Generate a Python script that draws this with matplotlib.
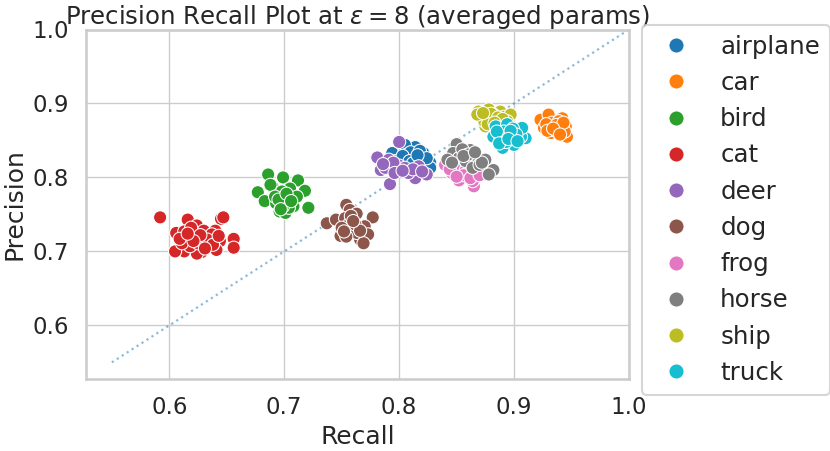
import matplotlib
matplotlib.use("Agg")
import matplotlib.pyplot as plt
import seaborn as sns
import pandas as pd

classes = ["airplane", "car", "bird", "cat", "deer", "dog", "frog", "horse", "ship", "truck"]

airplane_recall = [0.794, 0.805, 0.814, 0.805, 0.821, 0.814, 0.802, 0.827, 0.811, 0.797, 0.821, 0.827, 0.807, 0.817, 0.800, 0.810, 0.818, 0.803, 0.824, 0.809, 0.812, 0.816]
airplane_prec   = [0.833, 0.837, 0.841, 0.844, 0.833, 0.826, 0.824, 0.820, 0.817, 0.822, 0.813, 0.813, 0.831, 0.828, 0.815, 0.834, 0.836, 0.829, 0.826, 0.822, 0.819, 0.830]

car_recall = [0.923, 0.930, 0.942, 0.926, 0.936, 0.938, 0.946, 0.932, 0.941, 0.945, 0.933, 0.928, 0.939, 0.935, 0.944, 0.929, 0.937, 0.943, 0.934, 0.940]
car_prec   = [0.878, 0.885, 0.880, 0.867, 0.869, 0.860, 0.855, 0.860, 0.867, 0.869, 0.874, 0.872, 0.876, 0.864, 0.862, 0.863, 0.871, 0.874, 0.866, 0.858]

bird_recall = [0.686, 0.699, 0.712, 0.677, 0.690, 0.705, 0.718, 0.683, 0.700, 0.693, 0.708, 0.721, 0.696, 0.701, 0.688, 0.698, 0.711, 0.692, 0.704, 0.699, 0.695, 0.702, 0.697, 0.706]
bird_prec   = [0.804, 0.800, 0.796, 0.780, 0.787, 0.785, 0.782, 0.768, 0.772, 0.765, 0.761, 0.759, 0.754, 0.752, 0.790, 0.781, 0.774, 0.774, 0.759, 0.761, 0.770, 0.778, 0.757, 0.768]

cat_recall = [0.592, 0.616, 0.645, 0.647, 0.606, 0.624, 0.630, 0.640, 0.622, 0.613, 0.656, 0.656, 0.635, 0.644, 0.641, 0.613, 0.605, 0.628, 0.624, 0.618, 0.611, 0.637, 0.625, 0.633, 0.619, 0.609, 0.627, 0.638, 0.631, 0.621, 0.643, 0.616]
cat_prec   = [0.746, 0.743, 0.744, 0.746, 0.725, 0.735, 0.728, 0.728, 0.720, 0.727, 0.717, 0.705, 0.711, 0.714, 0.702, 0.700, 0.700, 0.699, 0.697, 0.707, 0.711, 0.723, 0.711, 0.716, 0.732, 0.717, 0.722, 0.709, 0.704, 0.714, 0.721, 0.724]

deer_recall = [0.800, 0.781, 0.791, 0.784, 0.800, 0.792, 0.814, 0.824, 0.808, 0.817, 0.788, 0.805, 0.795, 0.812, 0.820, 0.786, 0.796, 0.803]
deer_prec   = [0.848, 0.827, 0.824, 0.810, 0.816, 0.791, 0.799, 0.804, 0.806, 0.815, 0.813, 0.813, 0.820, 0.811, 0.808, 0.818, 0.806, 0.809]

dog_recall = [0.754, 0.757, 0.763, 0.737, 0.745, 0.753, 0.777, 0.759, 0.770, 0.749, 0.766, 0.773, 0.757, 0.763, 0.754, 0.769, 0.762, 0.750, 0.758, 0.766, 0.760, 0.752]
dog_prec   = [0.763, 0.756, 0.751, 0.738, 0.743, 0.745, 0.746, 0.729, 0.734, 0.721, 0.716, 0.723, 0.738, 0.725, 0.720, 0.711, 0.736, 0.732, 0.748, 0.728, 0.741, 0.727]

frog_recall = [0.840, 0.858, 0.869, 0.846, 0.855, 0.866, 0.865, 0.852, 0.872, 0.861, 0.849, 0.858, 0.864, 0.852, 0.844, 0.868, 0.856, 0.862, 0.850, 0.870]
frog_prec   = [0.817, 0.816, 0.818, 0.806, 0.799, 0.801, 0.788, 0.807, 0.806, 0.808, 0.812, 0.810, 0.795, 0.796, 0.811, 0.812, 0.803, 0.799, 0.801, 0.803]

horse_recall = [0.850, 0.847, 0.862, 0.852, 0.858, 0.868, 0.842, 0.875, 0.882, 0.878, 0.864, 0.870, 0.855, 0.846, 0.860, 0.872, 0.856, 0.866]
horse_prec   = [0.845, 0.833, 0.837, 0.826, 0.822, 0.828, 0.824, 0.824, 0.810, 0.804, 0.813, 0.817, 0.838, 0.820, 0.831, 0.820, 0.829, 0.834]

ship_recall = [0.869, 0.878, 0.888, 0.871, 0.882, 0.891, 0.875, 0.874, 0.897, 0.885, 0.894, 0.880, 0.868, 0.886, 0.877, 0.890, 0.873, 0.883]
ship_prec   = [0.889, 0.892, 0.889, 0.882, 0.885, 0.882, 0.869, 0.876, 0.885, 0.878, 0.876, 0.886, 0.885, 0.881, 0.872, 0.879, 0.887, 0.874]

truck_recall = [0.884, 0.894, 0.904, 0.910, 0.882, 0.888, 0.900, 0.890, 0.896, 0.906, 0.891, 0.885, 0.907, 0.899, 0.893, 0.902, 0.887, 0.897, 0.895, 0.903]
truck_prec   = [0.869, 0.872, 0.862, 0.853, 0.855, 0.851, 0.844, 0.840, 0.858, 0.855, 0.862, 0.862, 0.867, 0.866, 0.848, 0.858, 0.846, 0.863, 0.852, 0.849]

series = {
    "airplane": (airplane_recall, airplane_prec),
    "car": (car_recall, car_prec),
    "bird": (bird_recall, bird_prec),
    "cat": (cat_recall, cat_prec),
    "deer": (deer_recall, deer_prec),
    "dog": (dog_recall, dog_prec),
    "frog": (frog_recall, frog_prec),
    "horse": (horse_recall, horse_prec),
    "ship": (ship_recall, ship_prec),
    "truck": (truck_recall, truck_prec),
}

rows = []
for c in classes:
    r, p = series[c]
    for a, b in zip(r, p):
        rows.append({"Recall": a, "Precision": b, "label": c})
df = pd.DataFrame(rows)

diag = [0.55, 1.0]
x_ticks = [0.6, 0.7, 0.8, 0.9, 1.0]
y_ticks = [0.6, 0.7, 0.8, 0.9, 1.0]

sns.set_theme(style="whitegrid", context="talk")
plt.rcParams["font.family"] = ["DejaVu Sans"]
plt.rcParams["grid.linewidth"] = 1.0

fig = plt.figure(figsize=(8.3, 4.51), dpi=100)
ax = fig.add_axes([86/830, 1-379/451, (629-86)/830, (379-29.5)/451])

sns.scatterplot(data=df, x="Recall", y="Precision", hue="label", hue_order=classes,
                palette="tab10", ax=ax, zorder=3, s=90)
ax.plot(diag, diag, linestyle=":", color="tab:blue", alpha=0.5, linewidth=1.6, zorder=2)

ax.set_xlim(0.5275, 1.0)
ax.set_ylim(0.5275, 1.0)
ax.set_xticks(x_ticks)
ax.set_yticks(y_ticks)
ax.set_title(r"Precision Recall Plot at $\varepsilon = 8$ (averaged params)", pad=4, fontsize=17.6)

handles, labels = ax.get_legend_handles_labels()
ax.legend(handles, labels, loc="upper left", bbox_to_anchor=(642/830, 1-25/451),
          bbox_transform=fig.transFigure, borderaxespad=0, frameon=True,
          fontsize=17.6, markerscale=1.15)

fig.savefig("out.png", dpi=100)
